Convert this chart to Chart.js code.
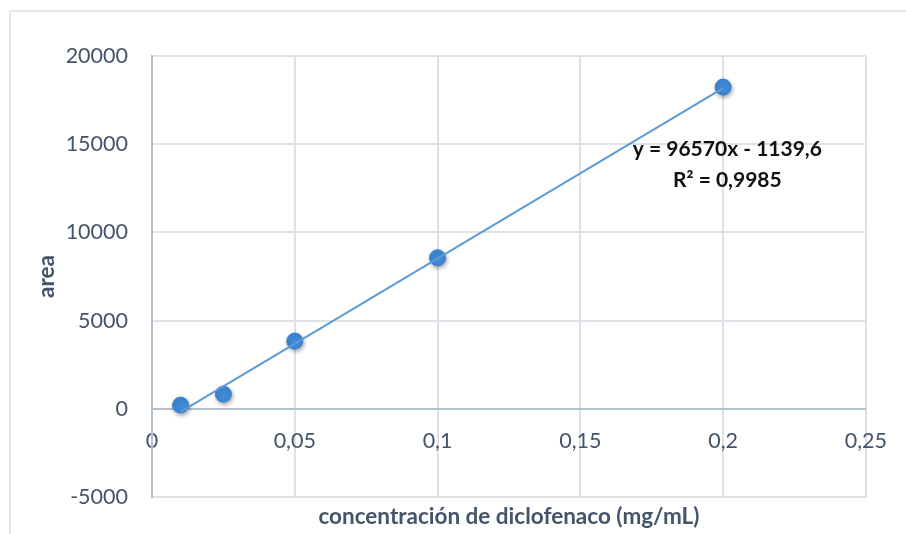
<!DOCTYPE html>
<html>
<head>
<meta charset="utf-8">
<script src="https://cdn.jsdelivr.net/npm/chart.js@4.4.1/dist/chart.umd.min.js"></script>
<style>
  body { margin: 0; background: #fff; }
  #wrap { position: relative; width: 906px; height: 534px; }
  #frame { position: absolute; left: 9px; top: 10px; right: 0; bottom: 0; border-left: 2px solid #e4e7ed; border-top: 2px solid #e4e7ed; }
  canvas { position: absolute; left: 0; top: 0; }
</style>
</head>
<body>
<div id="wrap">
  <div id="frame"></div>
  <canvas id="chart" width="906" height="534"></canvas>
</div>
<script>
// measured points (mg/mL vs area)
const concentrations = [0.01, 0.025, 0.05, 0.1, 0.2];
const areas = [210, 830, 3840, 8560, 18240];

// trendline given in the chart
const slope = 96570;
const intercept = -1139.6;
const equationLines = ["y = 96570x - 1139,6", "R² = 0,9985"];
const equationAnchor = [0.2015, 14700];

const xTicks = [0, 0.05, 0.1, 0.15, 0.2, 0.25];
const yTicks = [-5000, 0, 5000, 10000, 15000, 20000];

const labelColor = "#44546a";
const gridColor = "#dde1e8";
const axisColor = "#b6bfcc";
const fontFamily = "Lato, 'Open Sans', sans-serif";

function fmt(v) {
    return String(v).replace(".", ",");
}

const pointData = concentrations.map(function(c, i) {
    return { x: c, y: areas[i] };
});
const xFirst = concentrations[0];
const xLast = concentrations[concentrations.length - 1];
const trendData = [
    { x: xFirst, y: slope * xFirst + intercept },
    { x: xLast, y: slope * xLast + intercept }
];

const equationPlugin = {
    id: "equation",
    afterDatasetsDraw(chart) {
        const ctx = chart.ctx;
        const x = chart.scales.x.getPixelForValue(equationAnchor[0]);
        const y = chart.scales.y.getPixelForValue(equationAnchor[1]);
        ctx.save();
        ctx.font = "bold 21px " + fontFamily;
        ctx.fillStyle = "#111";
        ctx.textAlign = "center";
        ctx.textBaseline = "middle";
        ctx.fillText(equationLines[0], x, y);
        ctx.fillText(equationLines[1], x, y + 31);
        ctx.restore();
    }
};

const shadowPlugin = {
    id: "pointShadow",
    beforeDatasetDraw(chart, args) {
        if (args.index !== 1) return;
        const ctx = chart.ctx;
        ctx.save();
        ctx.shadowColor = "rgba(0,0,0,0.35)";
        ctx.shadowBlur = 4;
        ctx.shadowOffsetX = 1;
        ctx.shadowOffsetY = 2;
    },
    afterDatasetDraw(chart, args) {
        if (args.index !== 1) return;
        chart.ctx.restore();
    }
};

const ctx = document.getElementById("chart");
let chart = new Chart(ctx, {
    type: "scatter",
    data: {
        datasets: [
            {
                type: "line",
                data: trendData,
                borderColor: "#5b9bd5",
                borderWidth: 2,
                pointRadius: 0,
                fill: false
            },
            {
                data: pointData,
                backgroundColor: "#3f8ad8",
                borderColor: "#3a7fc9",
                borderWidth: 1,
                pointRadius: 8,
                pointHoverRadius: 8
            }
        ]
    },
    options: {
        responsive: false,
        animation: false,
        events: [],
        layout: {
            padding: { left: 33, right: 40, top: 56, bottom: 4 }
        },
        plugins: {
            legend: { display: false },
            tooltip: { enabled: false }
        },
        scales: {
            x: {
                type: "linear",
                position: "bottom",
                min: 0,
                max: 0.25,
                afterBuildTicks: function(scale) {
                    scale.ticks = xTicks.map(function(v) { return { value: v }; });
                },
                grid: { color: gridColor, lineWidth: 2, drawTicks: false },
                border: { display: true, color: gridColor, width: 2 },
                ticks: { display: false },
                title: {
                    display: true,
                    text: "concentración de diclofenaco (mg/mL)",
                    color: labelColor,
                    font: { family: fontFamily, size: 22.5, weight: "bold" },
                    padding: { top: 6, bottom: 0 }
                }
            },
            x2: {
                type: "linear",
                position: { y: 0 },
                min: 0,
                max: 0.25,
                afterBuildTicks: function(scale) {
                    scale.ticks = xTicks.map(function(v) { return { value: v }; });
                },
                grid: { display: false, drawTicks: false },
                border: { display: false },
                ticks: {
                    color: labelColor,
                    font: { family: fontFamily, size: 21.5 },
                    padding: 19,
                    maxRotation: 0,
                    callback: function(v) { return fmt(v); }
                }
            },
            y: {
                type: "linear",
                min: -5000,
                max: 20000,
                afterBuildTicks: function(scale) {
                    scale.ticks = yTicks.map(function(v) { return { value: v }; });
                },
                afterFit: function(scale) {
                    scale.width = 119;
                },
                grid: {
                    drawTicks: false,
                    lineWidth: 2,
                    color: function(c) {
                        return c.tick && c.tick.value === 0 ? axisColor : gridColor;
                    }
                },
                border: { display: true, color: axisColor, width: 2 },
                ticks: {
                    color: labelColor,
                    font: { family: fontFamily, size: 21.5 },
                    padding: 24,
                    callback: function(v) { return fmt(v); }
                },
                title: {
                    display: true,
                    text: "area",
                    color: labelColor,
                    font: { family: fontFamily, size: 22.5, weight: "bold" },
                    padding: { top: 0, bottom: 8 }
                }
            }
        }
    },
    plugins: [equationPlugin, shadowPlugin]
});
</script>
</body>
</html>
